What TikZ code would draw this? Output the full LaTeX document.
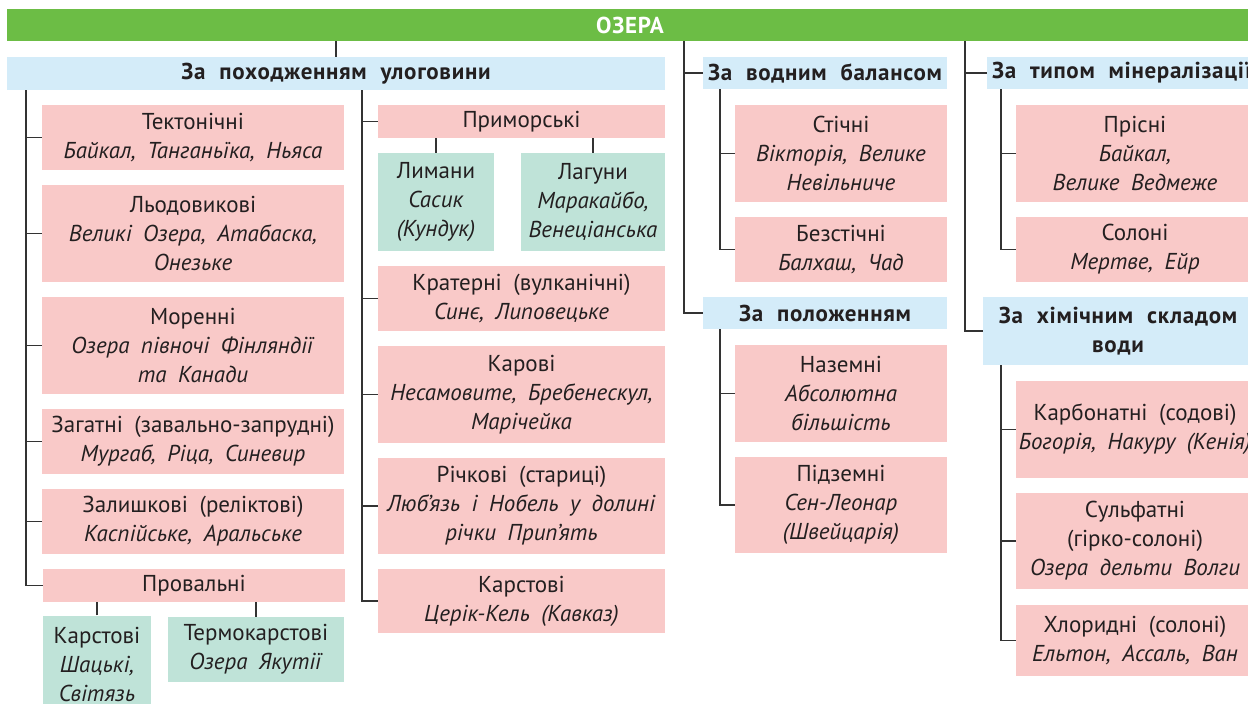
\documentclass[tikz,border=0pt]{standalone}
\usepackage{fontspec}
\setmainfont{PT Sans}
\definecolor{grn}{HTML}{6CBD45}
\definecolor{lblue}{HTML}{D4ECF9}
\definecolor{pnk}{HTML}{F9C9C8}
\definecolor{mint}{HTML}{BFE3D8}
\definecolor{lnc}{HTML}{333333}
\definecolor{txt}{HTML}{231F20}
\newcommand\fsz{\fontsize{23}{29}\selectfont\spaceskip=0.5em plus 1pt minus 1pt\relax}
\newcommand\bsz{\fontsize{23}{29}\selectfont\bfseries\addfontfeature{LetterSpace=3}\spaceskip=0.6em plus 1pt minus 1pt\relax}
\tikzset{
  cell/.style 2 args={minimum width=#1, minimum height=#2, inner sep=0pt, align=center, text=txt, font=\fsz},
  pcell/.style 2 args={cell={#1}{#2}, fill=pnk},
  mcell/.style 2 args={cell={#1}{#2}, fill=mint},
  bcell/.style 2 args={cell={#1}{#2}, fill=lblue, font=\bsz},
  conn/.style={draw=lnc, line width=1.3pt}
}
\begin{document}
\begin{tikzpicture}[x=1pt,y=-1pt]
\useasboundingbox (0,0) rectangle (1248,704);
\clip (0,0) rectangle (1248,704);
% top
\node[cell={1246}{32}, fill=grn, text=white, font=\bsz] (ozera) at (630,25) {ОЗЕРА};
\node[bcell={658}{33}] (pohod) at (336,73.5) {За походженням улоговини};
% left column
\node[pcell={302}{65}] (tekt) at (193,137.5) {Тектонічні\\\textit{Байкал, Танганьїка, Ньяса}};
\node[pcell={302}{97}] (lodo) at (193,233.5) {Льодовикові\\\textit{Великі Озера, Атабаска,}\\\textit{Онезьке}};
\node[pcell={302}{97}] (moren) at (193,345.5) {Моренні\\\textit{Озера півночі Фінляндії}\\\textit{та Канади}};
\node[pcell={302}{65}] (zagat) at (193,441.5) {Загатні (завально-запрудні)\\\textit{Мургаб, Ріца, Синевир}};
\node[pcell={302}{65}] (zalysh) at (193,521.5) {Залишкові (реліктові)\\\textit{Каспійське, Аральське}};
\node[pcell={302}{33}] (prov) at (194,585.5) {Провальні};
\node[mcell={108}{97}] (karstL) at (97,664) {Карстові\\\textit{Шацькі,}\\\textit{Світязь}};
\node[mcell={176}{65}] (termo) at (256,649.5) {Термокарстові\\\textit{Озера Якутії}};
% middle column
\node[pcell={287}{33}] (prym) at (521.5,121.5) {Приморські};
\node[mcell={116}{98}] (lyman) at (436,202) {Лимани\\\textit{Сасик}\\\textit{(Кундук)}};
\node[mcell={144}{98}] (lagun) at (593,202) {Лагуни\\\textit{Маракайбо,}\\\textit{Венеціанська}};
\node[pcell={287}{65}] (krat) at (521.5,298.5) {Кратерні (вулканічні)\\\textit{Синє, Липовецьке}};
\node[pcell={287}{97}] (karov) at (521.5,394.5) {Карові\\\textit{Несамовите, Бребенескул,}\\\textit{Марічейка}};
\node[pcell={287}{96}] (richk) at (521.5,506) {Річкові (стариці)\\\textit{Люб’язь і Нобель у долині}\\\textit{річки Прип’ять}};
\node[pcell={287}{64}] (karstM) at (521.5,601) {Карстові\\\textit{Церік-Кель (Кавказ)}};
% third column
\node[bcell={244}{32}] (vodbal) at (825,73) {За водним балансом};
\node[pcell={212}{97}] (stich) at (841,153.5) {Стічні\\\textit{Вікторія, Велике}\\\textit{Невільниче}};
\node[pcell={212}{65}] (bezst) at (841,249.5) {Безстічні\\\textit{Балхаш, Чад}};
\node[bcell={244}{32}] (polozh) at (825,313) {За положенням};
\node[pcell={212}{97}] (nazem) at (841,393.5) {Наземні\\\textit{Абсолютна}\\\textit{більшість}};
\node[pcell={212}{96}] (pidzem) at (841,505) {Підземні\\\textit{Сен-Леонар}\\\textit{(Швейцарія)}};
% fourth column
\node[bcell={270}{32}] (miner) at (1122,73) {За типом мінералізації};
\node[pcell={238}{97}] (prisni) at (1135,153.5) {Прісні\\\textit{Байкал,}\\\textit{Велике Ведмеже}};
\node[pcell={238}{65}] (soloni) at (1135,249.5) {Солоні\\\textit{Мертве, Ейр}};
\node[bcell={270}{68}] (khim) at (1118,331) {За хімічним складом\\води};
\node[pcell={238}{97}] (karb) at (1135,429.5) {Карбонатні (содові)\\\textit{Богорія, Накуру (Кенія)}};
\node[pcell={238}{96}] (sulf) at (1135,541) {Сульфатні\\(гірко-солоні)\\\textit{Озера дельти Волги}};
\node[pcell={238}{71}] (khlor) at (1135,640.5) {Хлоридні (солоні)\\\textit{Ельтон, Ассаль, Ван}};
% connectors
\coordinate (cL) at (26,90);
\coordinate (cM) at (362,90);
\coordinate (c3) at (684,41);
\coordinate (c4) at (965,41);
\coordinate (s3a) at (720,89);
\coordinate (s3b) at (720,329);
\coordinate (s4a) at (1001,89);
\coordinate (s4b) at (1001,365);
\draw[conn] (pohod.north) -- (pohod.north |- ozera.south);
\draw[conn] (cL) |- (prov.west);
\foreach \n in {tekt,lodo,moren,zagat,zalysh} \draw[conn] (cL |- \n.west) -- (\n.west);
\draw[conn] (karstL.north) -- (karstL.north |- prov.south);
\draw[conn] (termo.north) -- (termo.north |- prov.south);
\draw[conn] (cM) |- (karstM.west);
\foreach \n in {prym,krat,karov,richk} \draw[conn] (cM |- \n.west) -- (\n.west);
\draw[conn] (lyman.north) -- (lyman.north |- prym.south);
\draw[conn] (lagun.north) -- (lagun.north |- prym.south);
\draw[conn] (c3) |- (polozh.west);
\draw[conn] (c3 |- vodbal.west) -- (vodbal.west);
\draw[conn] (s3a) |- (bezst.west);
\draw[conn] (s3a |- stich.west) -- (stich.west);
\draw[conn] (s3b) |- (pidzem.west);
\draw[conn] (s3b |- nazem.west) -- (nazem.west);
\draw[conn] (c4) |- (khim.west);
\draw[conn] (c4 |- miner.west) -- (miner.west);
\draw[conn] (s4a) |- (soloni.west);
\draw[conn] (s4a |- prisni.west) -- (prisni.west);
\draw[conn] (s4b) |- (khlor.west);
\draw[conn] (s4b |- karb.west) -- (karb.west);
\draw[conn] (s4b |- sulf.west) -- (sulf.west);
\end{tikzpicture}
\end{document}
